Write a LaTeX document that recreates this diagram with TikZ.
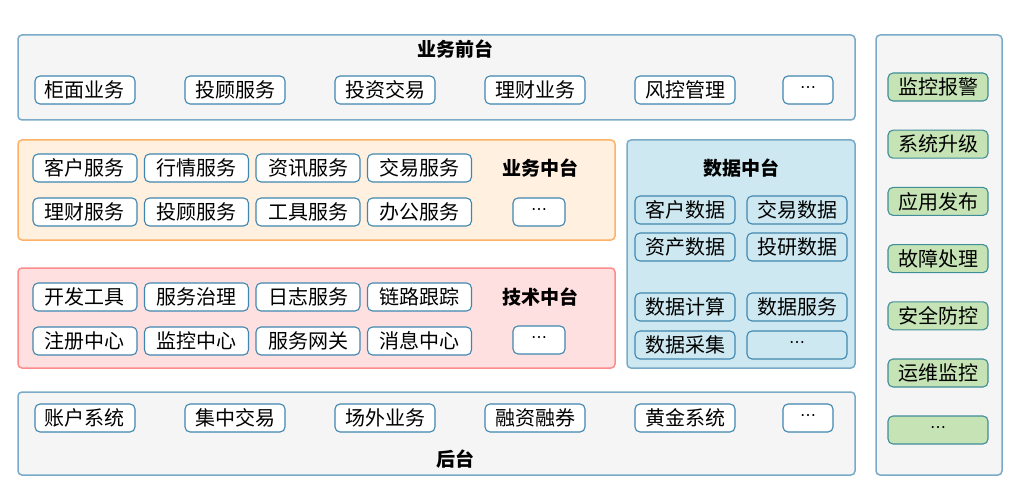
\documentclass[tikz,border=0pt]{standalone}
\usepackage{fontspec}
\newfontfamily\cjk{Noto Sans CJK SC}
\newcommand\dts{{\fontspec{DejaVu Sans}\fontsize{16}{16}\selectfont\char"22EF}}
\begin{document}
\begin{tikzpicture}[x=1pt,y=-1pt,font=\cjk\fontsize{20}{20}\selectfont,
 panel/.style={draw=#1!70!white,line width=1.5pt,rounded corners=4pt},
 item/.style={draw=#1,line width=1.1pt,rounded corners=5pt,minimum height=28pt,inner sep=0pt},
 ttl/.style={font=\cjk\bfseries\fontsize{19}{19}\selectfont}]
\useasboundingbox (0,0) rectangle (1021,500);
\definecolor{ib}{HTML}{3F86B0}\definecolor{gb}{HTML}{3F8E99}
\definecolor{gf}{HTML}{C5E3B5}\definecolor{tf}{HTML}{CDE8F0}
% panels
\draw[panel=ib,fill=gray!8] (18,35) rectangle (855,120);
\node[ttl] (tq) at (455,49) {业务前台};
\draw[panel=orange,fill=orange!12,draw=orange!60] (18,140) rectangle (615,240);
\draw[panel=red,fill=red!12,draw=red!45] (18,268) rectangle (615,368);
\draw[panel=ib,fill=tf] (627,140) rectangle (855,368);
\draw[panel=ib,fill=gray!8] (18,392) rectangle (855,475);
\draw[panel=ib,fill=gray!8] (876,35) rectangle (1002,475);
\node[ttl] (tz) at (540,168) {业务中台};
\node[ttl] (tj) at (540,297) {技术中台};
\node[ttl] (ts) at (741,168) {数据中台};
\node[ttl] (th) at (455,459) {后台};
% front / back rows
\foreach \t [count=\i] in {柜面业务,投顾服务,投资交易,理财业务,风控管理}{
  \node[item=ib,fill=white,minimum width=100pt] (f\i) at ({85+150*(\i-1)},90) {\t};
  }
\node[item=ib,fill=white,minimum width=50pt] (f6) at (808,90) {\dts};
\foreach \t [count=\i] in {账户系统,集中交易,场外业务,融资融券,黄金系统}{
  \node[item=ib,fill=white,minimum width=100pt] (b\i) at ({85+150*(\i-1)},418) {\t};}
\node[item=ib,fill=white,minimum width=50pt] (b6) at (808,418) {\dts};
% middle rows
\foreach \t [count=\i] in {客户服务,行情服务,资讯服务,交易服务}{
  \node[item=ib,fill=white,minimum width=104pt] (z\i) at ({85+111.5*(\i-1)},168) {\t};}
\foreach \t [count=\i] in {理财服务,投顾服务,工具服务,办公服务}{
  \node[item=ib,fill=white,minimum width=104pt] (y\i) at ({85+111.5*(\i-1)},212) {\t};}
\node[item=ib,fill=white,minimum width=52pt] (y5) at (539,212) {\dts};
\foreach \t [count=\i] in {开发工具,服务治理,日志服务,链路跟踪}{
  \node[item=ib,fill=white,minimum width=104pt] (j\i) at ({85+111.5*(\i-1)},297) {\t};}
\foreach \t [count=\i] in {注册中心,监控中心,服务网关,消息中心}{
  \node[item=ib,fill=white,minimum width=104pt] (k\i) at ({85+111.5*(\i-1)},341) {\t};}
\node[item=ib,fill=white,minimum width=52pt] (k5) at (539,340) {\dts};
% data
\node[item=ib,fill=tf,minimum width=100pt] (d1) at (685,210) {客户数据};
\node[item=ib,fill=tf,minimum width=100pt] (d2) at (797,210) {交易数据};
\node[item=ib,fill=tf,minimum width=100pt] (d3) at (685,247) {资产数据};
\node[item=ib,fill=tf,minimum width=100pt] (d4) at (797,247) {投研数据};
\node[item=ib,fill=tf,minimum width=100pt] (d5) at (685,307) {数据计算};
\node[item=ib,fill=tf,minimum width=100pt] (d6) at (797,307) {数据服务};
\node[item=ib,fill=tf,minimum width=100pt] (d7) at (685,345) {数据采集};
\node[item=ib,fill=tf,minimum width=100pt] (d8) at (797,345) {\dts};
% right
\foreach \t [count=\i] in {监控报警,系统升级,应用发布,故障处理,安全防控,运维监控}{
  \node[item=gb,fill=gf,minimum width=100pt] (r\i) at (938,{87+57.2*(\i-1)}) {\t};}
\node[item=gb,fill=gf,minimum width=100pt] (r7) at (938,430) {\dts};
\end{tikzpicture}
\end{document}
